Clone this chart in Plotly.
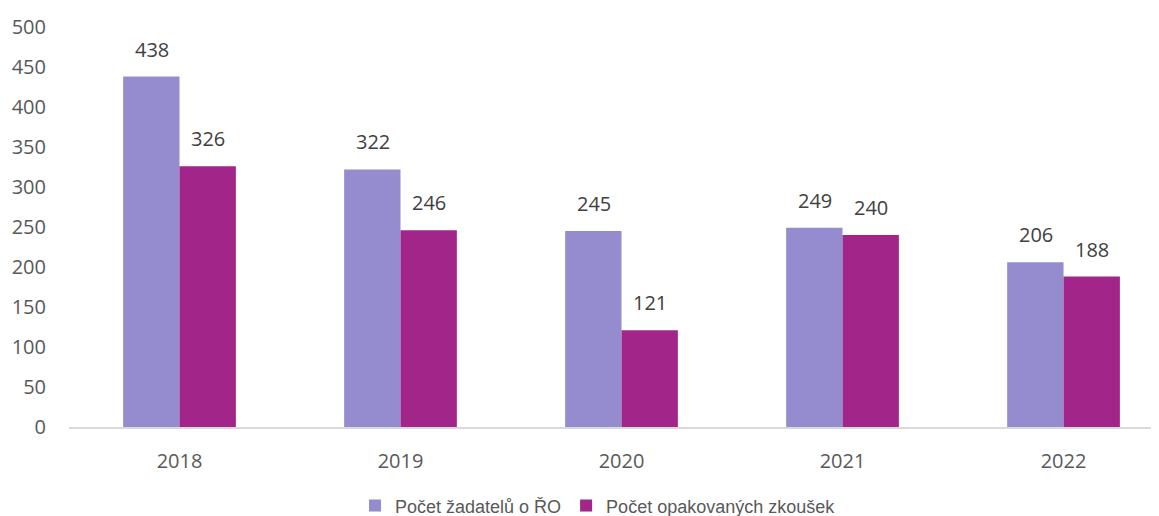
import plotly.graph_objects as go

roky = ["2018", "2019", "2020", "2021", "2022"]
zadatele = [438, 322, 245, 249, 206]
opakovane = [326, 246, 121, 240, 188]
nazvy = ["Počet žadatelů o ŘO", "Počet opakovaných zkoušek"]
barvy = ["#958BCF", "#A2258A"]

fig = go.Figure()
for nazev, hodnoty, barva in zip(nazvy, [zadatele, opakovane], barvy):
    fig.add_trace(go.Bar(x=roky, y=hodnoty, name=nazev, marker_color=barva,
                         marker_line=dict(width=0)))

# popisky hodnot nad sloupci
for posun, hodnoty in zip([-28, 28], [zadatele, opakovane]):
    for i, h in enumerate(hodnoty):
        fig.add_annotation(x=i, y=h, xref="x", yref="y", text=str(h), showarrow=False,
                           xshift=posun, yshift=12, yanchor="bottom",
                           font=dict(family="Open Sans", size=20, color="#404040"))

# stránka má okraj 8 px, proto je graf o 8 px menší
fig.update_layout(
    width=1151, height=508,
    margin=dict(l=61, r=0, t=19, b=89),
    plot_bgcolor="white", paper_bgcolor="white",
    barmode="group", bargap=0.49, bargroupgap=0,
    showlegend=True,
    legend=dict(orientation="h", xref="container", yref="container",
                x=0.5126, xanchor="center", y=0.02, yanchor="middle",
                font=dict(family="Liberation Sans", size=18, color="#595959"),
                traceorder="normal", itemwidth=30),
    font=dict(family="Open Sans", size=20, color="#595959"),
)
fig.update_xaxes(type="category", range=[-0.5, 4.432], showline=True, linecolor="#D9D9D9",
                 linewidth=2, ticks="", showgrid=False, ticklabelstandoff=15, automargin=False,
                 tickfont=dict(family="Open Sans", size=20, color="#595959"))
fig.update_yaxes(range=[0, 500], dtick=50, showgrid=False, zeroline=False, showline=False,
                 ticklabelstandoff=22, automargin=False,
                 tickfont=dict(family="Open Sans", size=20, color="#595959"))

fig.write_html("out.html")
